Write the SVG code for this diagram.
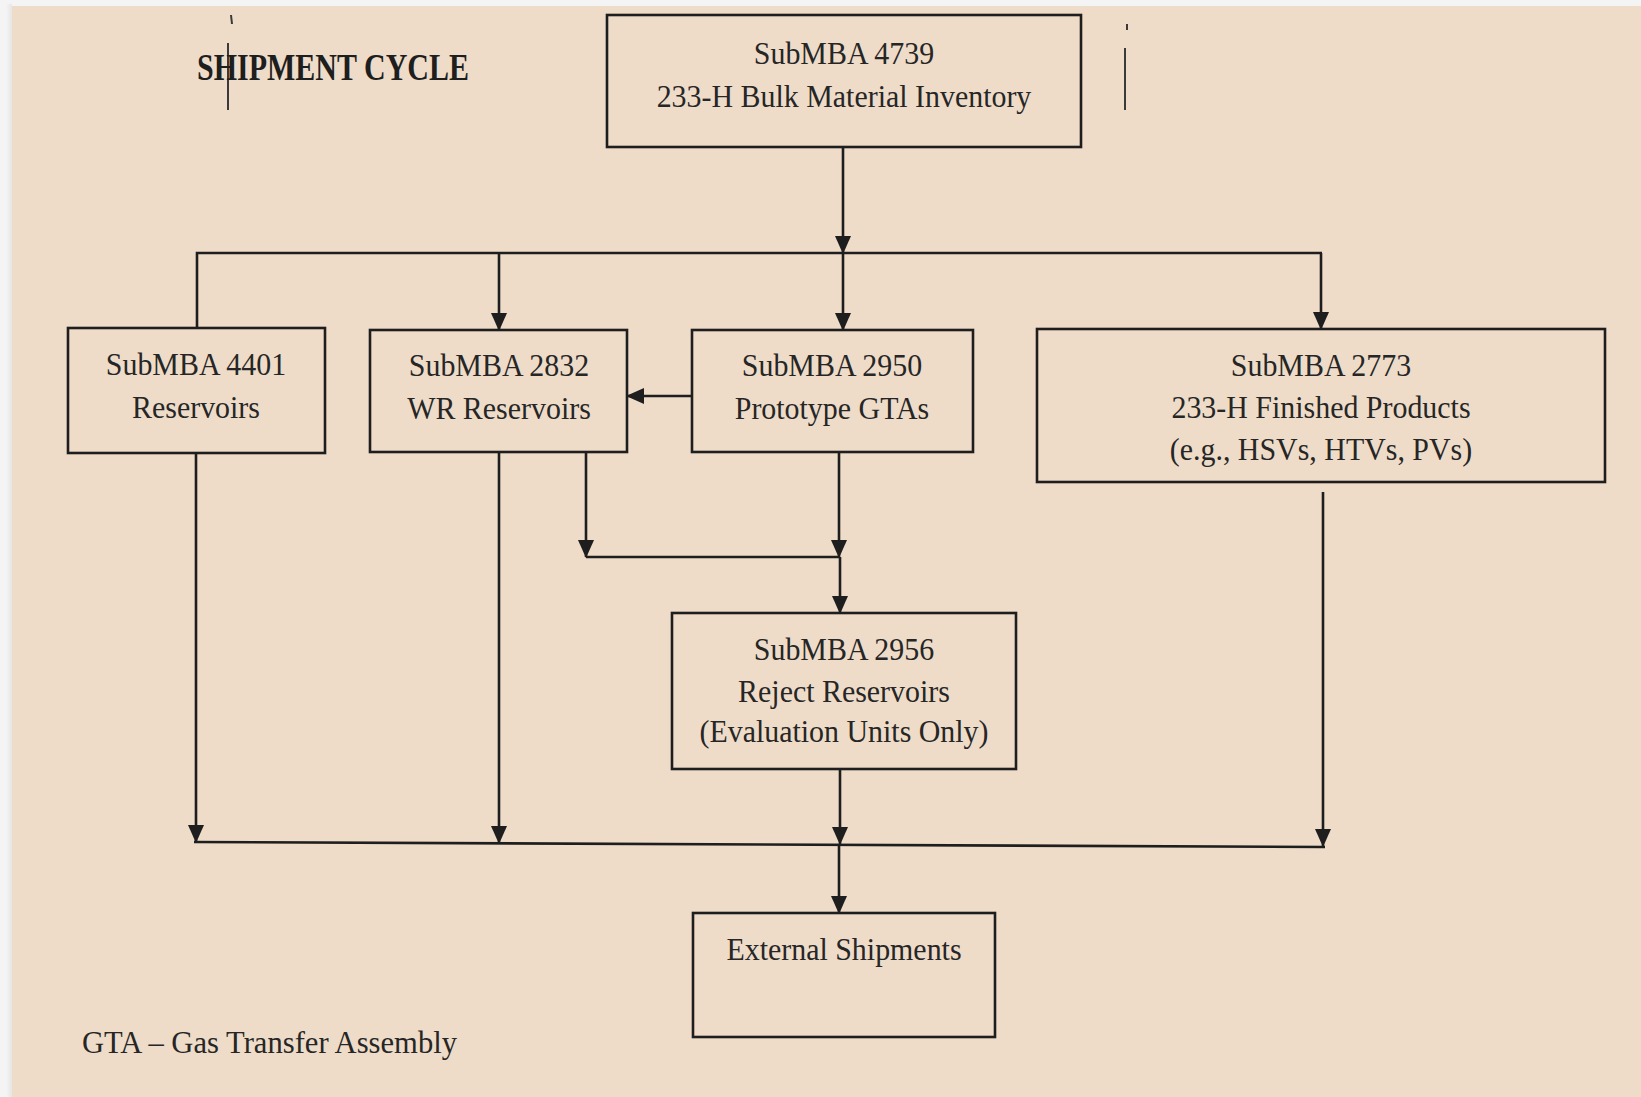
<svg xmlns="http://www.w3.org/2000/svg" width="1641" height="1097" viewBox="0 0 1641 1097">
  <defs>
    <style>
      .box { fill: none; stroke: #1e1e1e; stroke-width: 2.6; }
      .lbl { font-family: "Liberation Serif", "Times New Roman", serif; font-size: 32px; fill: #262626; text-anchor: middle; }
      .wire { fill: none; stroke: #1e1e1e; stroke-width: 2.6; }
      .arrow { marker-end: url(#head); }
      .mark { stroke: #3a3a3a; stroke-width: 2; }
    </style>
    <marker id="head" markerUnits="userSpaceOnUse" markerWidth="18" markerHeight="18" refX="17" refY="9" orient="auto">
      <path d="M0,1 L18,9 L0,17 z" fill="#1e1e1e"/>
    </marker>
    <linearGradient id="edge" x1="0" y1="0" x2="1" y2="0">
      <stop offset="0" stop-color="#f4f4f4"/>
      <stop offset="1" stop-color="#e6e6e6"/>
    </linearGradient>
  </defs>

  <!-- paper -->
  <rect x="0" y="0" width="1641" height="1097" fill="#f4f4f4"/>
  <rect x="6" y="4" width="6" height="1093" fill="url(#edge)"/>
  <rect x="12" y="6" width="1629" height="1091" fill="#eedcc9"/>

  <!-- stray scan marks -->
  <line class="mark" x1="228" y1="43" x2="228" y2="110"/>
  <line class="mark" x1="231" y1="15" x2="232" y2="24" stroke-width="1.2"/>
  <line class="mark" x1="1125" y1="48" x2="1125" y2="110"/>
  <line class="mark" x1="1127" y1="24" x2="1127" y2="30" stroke-width="1.5"/>

  <!-- title -->
  <text x="197" y="80" font-family="Liberation Serif, Times New Roman, serif" font-weight="bold" font-size="38" fill="#1e1e1e" textLength="272" lengthAdjust="spacingAndGlyphs">SHIPMENT CYCLE</text>

  <!-- connectors -->
  <g id="connectors">
    <path class="wire arrow" d="M843,147 V253"/>
    <path class="wire" d="M197,328 V253 H1322"/>
    <path class="wire arrow" d="M499,253 V330"/>
    <path class="wire arrow" d="M843,253 V330"/>
    <path class="wire arrow" d="M1321,253 V329"/>
    <path class="wire arrow" d="M692,396 H627"/>
    <path class="wire arrow" d="M196,453 V842"/>
    <path class="wire arrow" d="M499,452 V843"/>
    <path class="wire arrow" d="M586,452 V557"/>
    <path class="wire arrow" d="M839,452 V557"/>
    <path class="wire" d="M586,557 H840"/>
    <path class="wire arrow" d="M840,557 V613"/>
    <path class="wire arrow" d="M840,769 V844"/>
    <path class="wire arrow" d="M1323,492 V846"/>
    <path class="wire" d="M194,842 L1325,847"/>
    <path class="wire arrow" d="M839,844 V913"/>
  </g>

  <!-- nodes (labels set in a narrow serif: 32px, compressed horizontally about the box centre) -->
  <g id="submba-4739">
    <rect class="box" x="607" y="15" width="474" height="132"/>
    <g transform="matrix(0.935 0 0 1 54.86 0)">
      <text class="lbl" x="844" y="64">SubMBA 4739</text>
      <text class="lbl" x="844" y="107">233-H Bulk Material Inventory</text>
    </g>
  </g>

  <g id="submba-4401">
    <rect class="box" x="68" y="328" width="257" height="125"/>
    <g transform="matrix(0.935 0 0 1 12.74 0)">
      <text class="lbl" x="196" y="375">SubMBA 4401</text>
      <text class="lbl" x="196" y="418">Reservoirs</text>
    </g>
  </g>

  <g id="submba-2832">
    <rect class="box" x="370" y="330" width="257" height="122"/>
    <g transform="matrix(0.935 0 0 1 32.44 0)">
      <text class="lbl" x="499" y="376">SubMBA 2832</text>
      <text class="lbl" x="499" y="419">WR Reservoirs</text>
    </g>
  </g>

  <g id="submba-2950">
    <rect class="box" x="692" y="330" width="281" height="122"/>
    <g transform="matrix(0.935 0 0 1 54.08 0)">
      <text class="lbl" x="832" y="376">SubMBA 2950</text>
      <text class="lbl" x="832" y="419">Prototype GTAs</text>
    </g>
  </g>

  <g id="submba-2773">
    <rect class="box" x="1037" y="329" width="568" height="153"/>
    <g transform="matrix(0.935 0 0 1 85.87 0)">
      <text class="lbl" x="1321" y="376">SubMBA 2773</text>
      <text class="lbl" x="1321" y="418">233-H Finished Products</text>
      <text class="lbl" x="1321" y="460">(e.g., HSVs, HTVs, PVs)</text>
    </g>
  </g>

  <g id="submba-2956">
    <rect class="box" x="672" y="613" width="344" height="156"/>
    <g transform="matrix(0.935 0 0 1 54.86 0)">
      <text class="lbl" x="844" y="660">SubMBA 2956</text>
      <text class="lbl" x="844" y="702">Reject Reservoirs</text>
      <text class="lbl" x="844" y="742">(Evaluation Units Only)</text>
    </g>
  </g>

  <g id="external-shipments">
    <rect class="box" x="693" y="913" width="302" height="124"/>
    <g transform="matrix(0.935 0 0 1 54.86 0)">
      <text class="lbl" x="844" y="960">External Shipments</text>
    </g>
  </g>

  <!-- footnote -->
  <text x="82" y="1053" font-family="Liberation Serif, Times New Roman, serif" font-size="32" fill="#262626" textLength="375" lengthAdjust="spacingAndGlyphs">GTA – Gas Transfer Assembly</text>
</svg>
